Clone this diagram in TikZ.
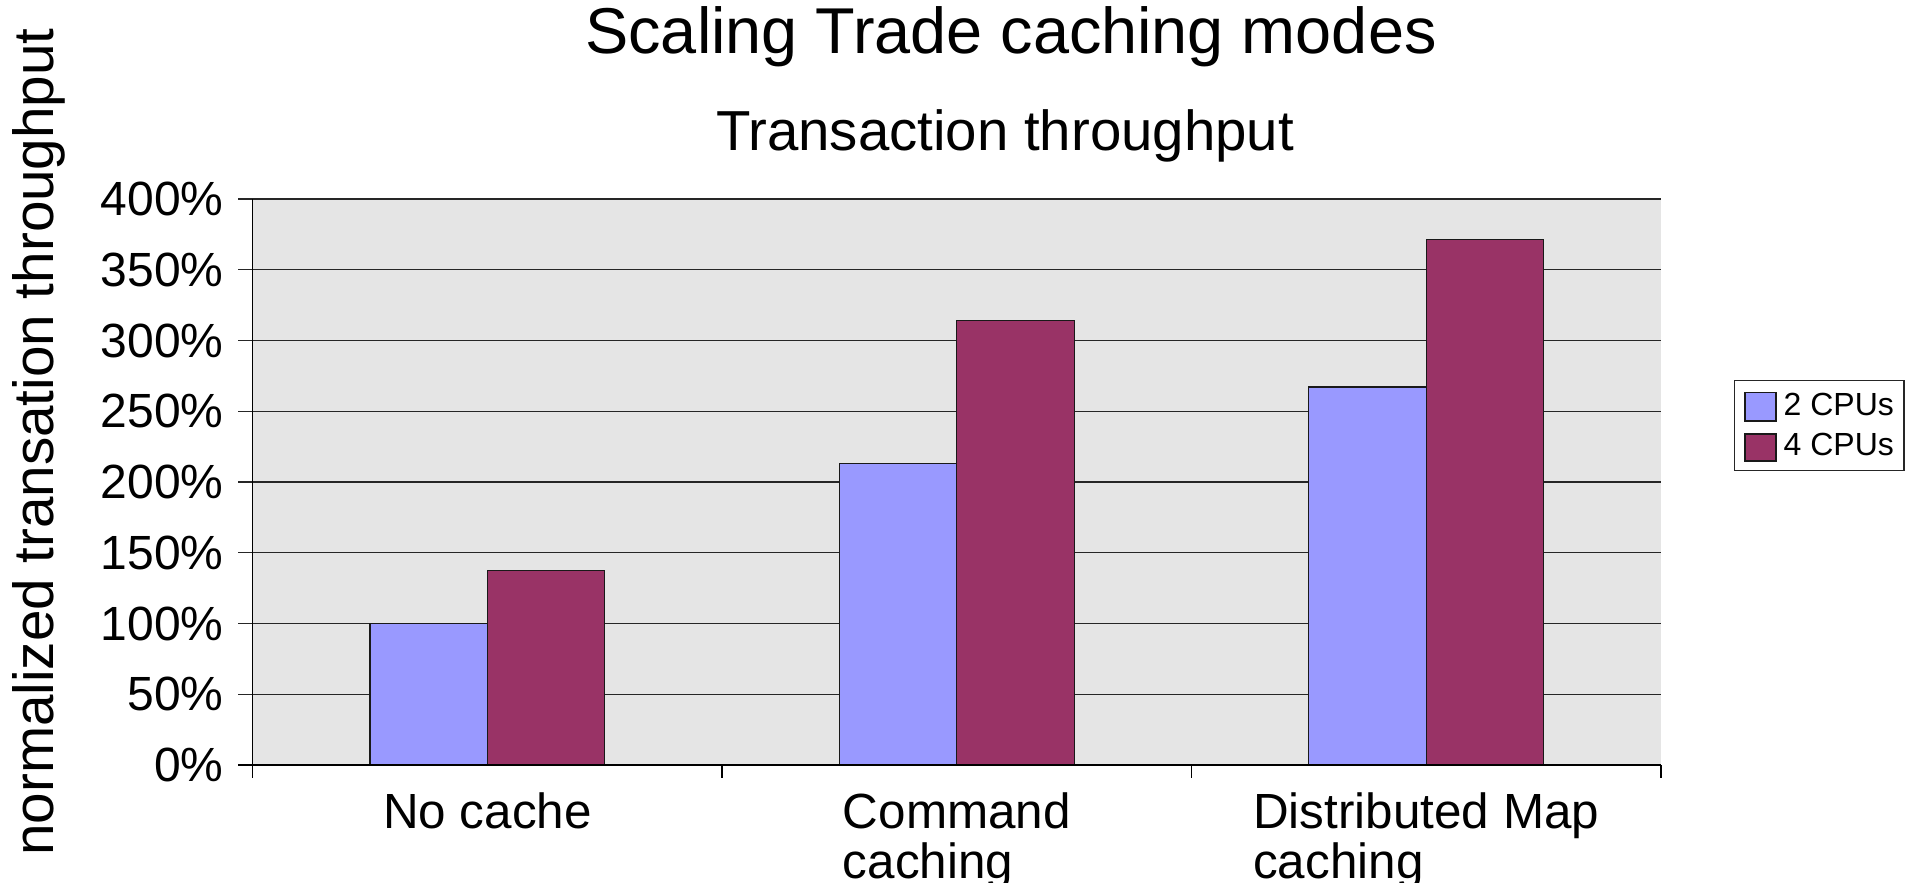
\documentclass[tikz,border=0pt]{standalone}
\usepackage{fontspec}
\setmainfont{Liberation Sans}
\definecolor{seriesA}{HTML}{9999FF}
\definecolor{seriesB}{HTML}{993366}
\definecolor{plotbg}{HTML}{E5E5E5}
\tikzset{
  gridline/.style={draw=black!85, line width=0.55pt},
  axisline/.style={draw=black, line width=0.7pt},
  bar/.style={draw=black!90, line width=0.6pt},
  ticklabel/.style={inner sep=0pt, anchor=base east, font=\fontsize{24pt}{28pt}\selectfont},
  catlabel/.style={inner sep=0pt, anchor=base, font=\fontsize{24.7pt}{23.35pt}\selectfont},
  legendtext/.style={inner sep=0pt, anchor=base west, font=\fontsize{16pt}{19pt}\selectfont},
}
\begin{document}
\begin{tikzpicture}[x=0.5pt, y=-0.5pt]
\useasboundingbox (0,0) rectangle (1912,883);
\fill[white] (0,0) rectangle (1912,883);

% plot area: x from 252.7 to 1661, 0% at y=765, 400% at y=199
\fill[plotbg] (252.7,199) rectangle (1661,765);

% horizontal grid lines with their ticks and labels
\foreach \v/\lab in {1/50\%,2/100\%,3/150\%,4/200\%,5/250\%,6/300\%,7/350\%,8/400\%} {
  \pgfmathsetmacro\gy{765-\v*70.75}
  \draw[gridline] (238.2,\gy) -- (1661,\gy);
  \node[ticklabel] (ylab\v) at (224,\gy+16.5) {\lab};
}
\node[ticklabel] (ylab0) at (224,765+16.5) {0\%};

% bars: category width 469.4, bar width 117.35
\foreach \c/\a/\b in {0/100/137.3, 1/213.1/314, 2/267.2/371.2} {
  \pgfmathsetmacro\xa{252.7+469.4*\c+117.35}
  \pgfmathsetmacro\xm{252.7+469.4*\c+234.7}
  \pgfmathsetmacro\xb{252.7+469.4*\c+352.05}
  \pgfmathsetmacro\ya{765-1.415*\a}
  \pgfmathsetmacro\yb{765-1.415*\b}
  \draw[bar, fill=seriesA] (\xa,765) rectangle (\xm,\ya);
  \draw[bar, fill=seriesB] (\xm,765) rectangle (\xb,\yb);
}

% axes and ticks
\draw[axisline] (252.7,199) -- (252.7,778.3);
\draw[axisline] (238.2,765) -- (1661,765);
\foreach \k in {1,2,3} {
  \pgfmathsetmacro\tx{252.7+469.4*\k}
  \draw[axisline] (\tx,765) -- (\tx,778.3);
}

% category labels
\node[catlabel] (cat1) at (487.4,828.3) {\begin{tabular}[t]{@{}l@{}}No cache\end{tabular}};
\node[catlabel] (cat2) at (956.8,828.3) {\begin{tabular}[t]{@{}l@{}}Command\\caching\end{tabular}};
\node[catlabel] (cat3) at (1426.2,828.3) {\begin{tabular}[t]{@{}l@{}}Distributed Map\\caching\end{tabular}};

% titles
\node[inner sep=0pt, anchor=base, font=\fontsize{32.4pt}{38pt}\selectfont] (title) at (1011,53.3) {Scaling Trade caching modes};
\node[inner sep=0pt, anchor=base, font=\fontsize{28.2pt}{33pt}\selectfont] (subtitle) at (1005,150.5) {Transaction throughput};
\node[inner sep=0pt, anchor=base, rotate=90, font=\fontsize{28.3pt}{34pt}\selectfont] (ytitle) at (53.3,442) {normalized transation throughput};

% legend
\draw[line width=0.6pt, draw=black!85, fill=white] (1734.3,380.7) rectangle (1904,470.7);
\draw[bar, fill=seriesA] (1745,392.7) rectangle (1776,421);
\draw[bar, fill=seriesB] (1745,434) rectangle (1776,461);
\node[legendtext] (leg1) at (1783.3,415.3) {2 CPUs};
\node[legendtext] (leg2) at (1783.3,455.7) {4 CPUs};
\end{tikzpicture}
\end{document}
